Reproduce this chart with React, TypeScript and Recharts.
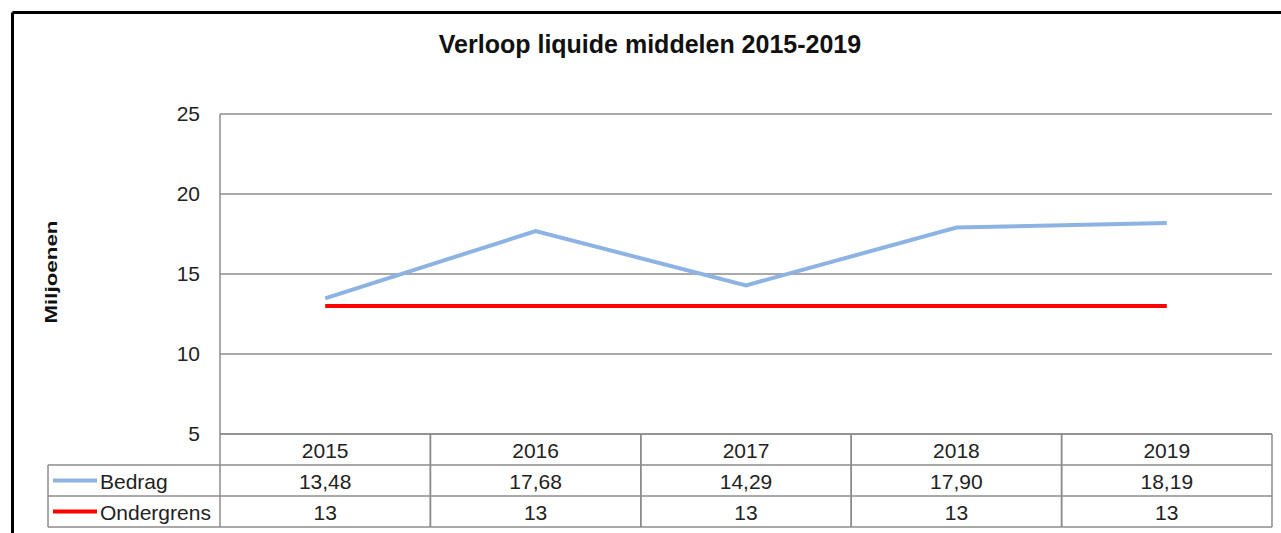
import React from 'react';
import { ComposedChart, Line, XAxis, YAxis, CartesianGrid } from 'recharts';

const years = ['2015', '2016', '2017', '2018', '2019'];
const bedrag = [13.48, 17.68, 14.29, 17.9, 18.19];
const ondergrens = [13, 13, 13, 13, 13];
const yTicks = [5, 10, 15, 20, 25];
const seriesNames = ['Bedrag', 'Ondergrens'];
const seriesColors = ['#8db3e2', '#ff0000'];

const W = 1281;
const H = 533;
const margin = { top: 114, right: 9, bottom: 6, left: 160 };
const Y_AXIS_W = 60;
const ROW_H = 31;
const FONT = 'Arial, "Liberation Sans", sans-serif';
const GRID = '#8c8c8c';

const data = years.map((year, i) => ({ year, bedrag: bedrag[i], ondergrens: ondergrens[i] }));

const bandWidth = (W - margin.left - Y_AXIS_W - margin.right) / years.length;

const fmt = (v: number) => (Number.isInteger(v) ? String(v) : v.toFixed(2).replace('.', ','));

// each x-axis tick draws its own column of the data table
const TableColumn = (props: any) => {
  const { x, y, payload } = props;
  const i = payload.index ?? props.index;
  const left = x - bandWidth / 2;
  const right = x + bandWidth / 2;
  const rows = [years[i], fmt(bedrag[i]), fmt(ondergrens[i])];
  const labelLeft = left - 172;
  return (
    <g>
      <line x1={left} x2={left} y1={y} y2={y + ROW_H * 3} stroke={GRID} strokeWidth={1.5} />
      <line x1={right} x2={right} y1={y} y2={y + ROW_H * 3} stroke={GRID} strokeWidth={1.5} />
      {[1, 2, 3].map((r) => (
        <line key={r} x1={left} x2={right} y1={y + ROW_H * r} y2={y + ROW_H * r} stroke={GRID} strokeWidth={1.5} />
      ))}
      {rows.map((t, r) => (
        <text key={t + r} x={x} y={y + ROW_H * r + ROW_H / 2 + 1} textAnchor="middle" dominantBaseline="central"
          fontFamily={FONT} fontSize={21} fill="#222">
          {t}
        </text>
      ))}
      {i === 0 && (
        <g>
          <line x1={labelLeft} x2={labelLeft} y1={y + ROW_H} y2={y + ROW_H * 3} stroke={GRID} strokeWidth={1.5} />
          {[1, 2, 3].map((r) => (
            <line key={r} x1={labelLeft} x2={left} y1={y + ROW_H * r} y2={y + ROW_H * r} stroke={GRID} strokeWidth={1.5} />
          ))}
          {seriesNames.map((name, s) => {
            const cy = y + ROW_H * (s + 1) + ROW_H / 2;
            return (
              <g key={name}>
                <line x1={labelLeft + 5} x2={labelLeft + 49} y1={cy} y2={cy} stroke={seriesColors[s]} strokeWidth={4} />
                <text x={labelLeft + 52} y={cy + 1} dominantBaseline="central" fontFamily={FONT} fontSize={21} fill="#222">
                  {name}
                </text>
              </g>
            );
          })}
        </g>
      )}
    </g>
  );
};

export default function App() {
  return (
    <div style={{ position: 'absolute', left: 0, top: 0, width: W, height: H, background: '#fff' }}>
      <ComposedChart width={W} height={H} data={data} margin={margin}>
        <CartesianGrid vertical={false} stroke={GRID} strokeWidth={1.5} />
        <XAxis dataKey="year" scale="band" height={93} tickSize={0} tickMargin={0}
          axisLine={{ stroke: GRID, strokeWidth: 1.5 }} tick={TableColumn} interval={0} />
        <YAxis type="number" domain={[5, 25]} ticks={yTicks} width={Y_AXIS_W} tickLine={false} tickSize={0}
          tickMargin={20} axisLine={{ stroke: GRID, strokeWidth: 1.5 }}
          tick={{ fill: '#222', fontSize: 21, fontFamily: FONT }} />
        <Line dataKey="bedrag" name={seriesNames[0]} stroke={seriesColors[0]} strokeWidth={4} dot={false}
          isAnimationActive={false} />
        <Line dataKey="ondergrens" name={seriesNames[1]} stroke={seriesColors[1]} strokeWidth={4} dot={false}
          isAnimationActive={false} />
      </ComposedChart>
      <svg width={W} height={H} style={{ position: 'absolute', left: 0, top: 0, pointerEvents: 'none' }}>
        <line x1={12.5} x2={W} y1={12.5} y2={12.5} stroke="#000" strokeWidth={3} />
        <line x1={12.5} x2={12.5} y1={12.5} y2={H} stroke="#000" strokeWidth={3} />
        <text x={650} y={44} textAnchor="middle" dominantBaseline="central" fontFamily={FONT} fontWeight="bold"
          fontSize={25} fill="#111">
          Verloop liquide middelen 2015-2019
        </text>
        <text transform="translate(51,272) rotate(-90)" textAnchor="middle" dominantBaseline="central"
          fontFamily={FONT} fontWeight="bold" fontSize={17} fill="#111" textLength={103} lengthAdjust="spacingAndGlyphs">
          Miljoenen
        </text>
      </svg>
    </div>
  );
}
